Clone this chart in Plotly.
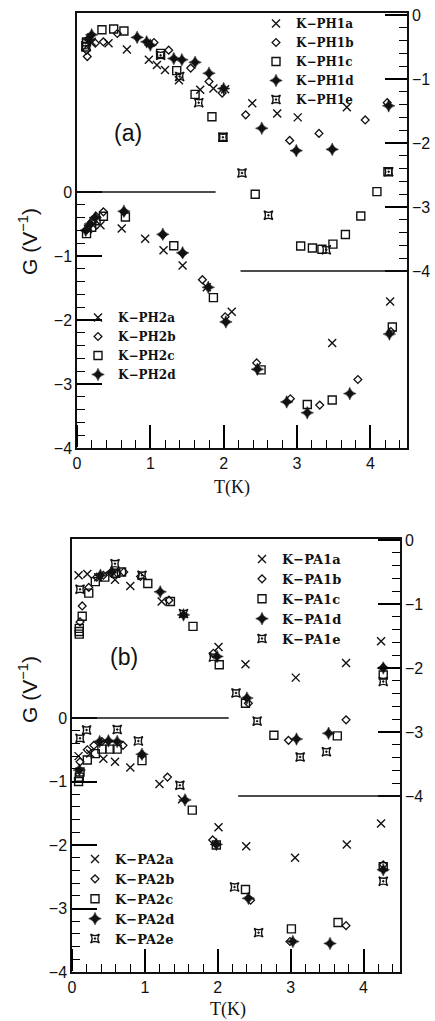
import plotly.graph_objects as go

# ---------------- data: panel (a) ----------------
# upper curves (right axis)
PH1a_T = [0.20, 0.43, 0.68, 0.98, 1.09, 1.20, 1.39, 1.68, 1.86, 2.02, 2.39, 2.73, 3.01, 3.68]
PH1a_G = [-0.42, -0.44, -0.54, -0.70, -0.78, -0.86, -1.02, -1.17, -1.15, -1.16, -1.38, -1.54, -1.60, -1.44]
PH1b_T = [0.13, 0.14, 0.25, 0.36, 0.55, 1.05, 1.25, 1.55, 1.80, 1.98, 2.30, 2.90, 3.30, 3.93, 4.23]
PH1b_G = [-0.55, -0.65, -0.44, -0.42, -0.29, -0.43, -0.55, -0.83, -1.04, -1.22, -1.56, -1.96, -1.85, -1.64, -1.37]
PH1c_T = [0.12, 0.13, 0.34, 0.50, 0.64, 1.14, 1.36, 1.61, 1.84, 1.99, 2.43, 3.05, 3.21, 3.34, 3.49, 3.66, 3.87, 4.09, 4.24]
PH1c_G = [-0.50, -0.42, -0.23, -0.22, -0.25, -0.60, -0.87, -1.24, -1.59, -1.91, -2.80, -3.61, -3.64, -3.66, -3.58, -3.43, -3.14, -2.76, -2.45]
PH1d_T = [0.15, 0.20, 0.82, 0.95, 1.00, 1.32, 1.43, 1.61, 1.80, 2.00, 2.52, 2.99, 3.48, 4.25]
PH1d_G = [-0.38, -0.31, -0.35, -0.42, -0.47, -0.68, -0.70, -0.74, -0.91, -1.15, -1.77, -2.12, -2.10, -1.42]
PH1e_T = [0.12, 1.14, 1.40, 1.66, 1.99, 2.25, 2.61, 3.40, 4.25]
PH1e_G = [-0.48, -0.63, -0.96, -1.37, -1.91, -2.47, -3.13, -3.67, -2.45]
# lower curves (left axis)
PH2a_T = [0.15, 0.22, 0.32, 0.61, 0.93, 1.18, 1.44, 1.77, 2.11, 3.48, 4.27]
PH2a_G = [-0.58, -0.52, -0.52, -0.57, -0.73, -0.91, -1.15, -1.49, -1.87, -2.36, -1.71]
PH2b_T = [0.14, 0.20, 0.26, 0.36, 0.64, 1.17, 1.44, 1.71, 2.02, 2.45, 2.91, 3.31, 3.83, 4.28]
PH2b_G = [-0.58, -0.47, -0.38, -0.31, -0.31, -0.67, -0.96, -1.37, -1.95, -2.67, -3.23, -3.33, -2.93, -2.18]
PH2c_T = [0.13, 0.20, 0.26, 0.36, 0.66, 1.32, 1.86, 2.51, 3.14, 3.48, 4.30]
PH2c_G = [-0.65, -0.55, -0.45, -0.38, -0.39, -0.84, -1.65, -2.78, -3.32, -3.25, -2.11]
PH2d_T = [0.12, 0.18, 0.25, 0.64, 1.17, 1.44, 1.79, 2.03, 2.46, 2.86, 3.14, 3.72, 4.26]
PH2d_G = [-0.60, -0.50, -0.40, -0.30, -0.66, -0.95, -1.49, -2.03, -2.77, -3.28, -3.45, -3.15, -2.22]

# ---------------- data: panel (b) ----------------
PA1a_T = [0.09, 0.21, 0.36, 0.59, 0.80, 1.23, 2.01, 2.38, 3.07, 3.76, 4.24]
PA1a_G = [-0.55, -0.53, -0.58, -0.62, -0.72, -0.96, -1.67, -1.94, -2.15, -1.92, -1.58]
PA1b_T = [0.11, 0.14, 0.23, 0.34, 0.43, 0.53, 0.62, 0.71, 0.94, 1.33, 1.94, 2.42, 2.97, 3.76, 4.27]
PA1b_G = [-1.28, -1.03, -0.74, -0.58, -0.55, -0.51, -0.52, -0.50, -0.57, -0.94, -1.77, -2.55, -3.13, -2.81, -1.99]
PA1c_T = [0.10, 0.10, 0.10, 0.14, 0.23, 0.32, 0.45, 0.60, 0.68, 1.04, 1.35, 1.66, 2.02, 2.38, 2.77, 3.64, 4.27]
PA1c_G = [-1.38, -1.43, -1.47, -1.19, -0.83, -0.65, -0.58, -0.52, -0.50, -0.68, -0.96, -1.35, -1.95, -2.55, -3.05, -3.06, -2.11]
PA1d_T = [0.39, 0.55, 1.21, 1.53, 1.99, 2.40, 3.08, 3.52, 4.27]
PA1d_G = [-0.55, -0.50, -0.81, -1.17, -1.82, -2.47, -3.11, -3.02, -2.00]
PA1e_T = [0.11, 0.59, 0.96, 1.53, 1.94, 2.25, 2.54, 3.13, 3.49, 4.27]
PA1e_G = [-0.77, -0.37, -0.55, -1.15, -1.83, -2.39, -2.83, -3.39, -3.31, -2.21]
# lower curves (left axis)
PA2a_T = [0.09, 0.25, 0.43, 0.59, 0.80, 1.20, 1.51, 2.01, 2.39, 3.06, 3.77, 4.24]
PA2a_G = [-0.60, -0.56, -0.64, -0.69, -0.78, -1.04, -1.28, -1.72, -2.02, -2.20, -1.99, -1.66]
PA2b_T = [0.11, 0.21, 0.30, 0.41, 0.70, 0.96, 1.31, 1.93, 2.45, 2.99, 3.76, 4.27]
PA2b_G = [-0.69, -0.50, -0.43, -0.37, -0.43, -0.58, -0.93, -1.92, -2.87, -3.52, -3.27, -2.31]
PA2c_T = [0.09, 0.10, 0.11, 0.21, 0.32, 0.41, 0.52, 0.62, 0.96, 1.65, 1.98, 2.38, 3.01, 3.65, 4.27]
PA2c_G = [-1.00, -0.93, -0.85, -0.66, -0.56, -0.49, -0.49, -0.49, -0.67, -1.45, -2.00, -2.70, -3.32, -3.22, -2.34]
PA2d_T = [0.10, 0.38, 0.50, 0.62, 0.96, 1.55, 1.98, 2.42, 3.03, 3.54, 4.27]
PA2d_G = [-0.82, -0.37, -0.36, -0.37, -0.57, -1.29, -1.99, -2.84, -3.52, -3.55, -2.39]
PA2e_T = [0.11, 0.20, 0.62, 0.91, 1.48, 2.23, 2.56, 4.27]
PA2e_G = [-0.32, -0.19, -0.18, -0.36, -1.06, -2.66, -3.38, -2.57]

# tick labels
x_ticks = [0, 1, 2, 3, 4]
y_ticks = [0, -1, -2, -3, -4]
y_ticktext = ["0", "\u22121", "\u22122", "\u22123", "\u22124"]
y_minor = [round(-(i * 0.2), 1) for i in range(1, 20) if i % 5 != 0]

# reference lines (left 0 line, right -4 line) per panel
sep_a = dict(zero_end=1.89, m4_start=2.23)
sep_b = dict(zero_end=2.15, m4_start=2.28)

INK = "#111111"
SYM = {
    "a": dict(symbol="x-thin-open", size=8, line=dict(width=1.4, color=INK)),
    "b": dict(symbol="diamond-open", size=6, line=dict(width=1.3, color=INK)),
    "c": dict(symbol="square-open", size=8, line=dict(width=1.4, color=INK)),
    "d": dict(symbol="star-diamond", size=9, color=INK, line=dict(width=0.5, color=INK)),
    "e": dict(symbol="star-square-open-dot", size=8, line=dict(width=1.4, color=INK)),
}

fig = go.Figure()

def add(T, G, key, name, xa, ya, leg):
    m = dict(SYM[key])
    m.setdefault("color", INK)
    fig.add_trace(go.Scatter(x=T, y=G, mode="markers", marker=m, name=name,
                             xaxis=xa, yaxis=ya, legend=leg, legendgroup=name,
                             showlegend=True))

add(PH1a_T, PH1a_G, "a", "K\u2212PH1a", "x", "y2", "legend")
add(PH1b_T, PH1b_G, "b", "K\u2212PH1b", "x", "y2", "legend")
add(PH1c_T, PH1c_G, "c", "K\u2212PH1c", "x", "y2", "legend")
add(PH1d_T, PH1d_G, "d", "K\u2212PH1d", "x", "y2", "legend")
add(PH1e_T, PH1e_G, "e", "K\u2212PH1e", "x", "y2", "legend")
add(PH2a_T, PH2a_G, "a", "K\u2212PH2a", "x", "y", "legend2")
add(PH2b_T, PH2b_G, "b", "K\u2212PH2b", "x", "y", "legend2")
add(PH2c_T, PH2c_G, "c", "K\u2212PH2c", "x", "y", "legend2")
add(PH2d_T, PH2d_G, "d", "K\u2212PH2d", "x", "y", "legend2")
add(PA1a_T, PA1a_G, "a", "K\u2212PA1a", "x2", "y4", "legend3")
add(PA1b_T, PA1b_G, "b", "K\u2212PA1b", "x2", "y4", "legend3")
add(PA1c_T, PA1c_G, "c", "K\u2212PA1c", "x2", "y4", "legend3")
add(PA1d_T, PA1d_G, "d", "K\u2212PA1d", "x2", "y4", "legend3")
add(PA1e_T, PA1e_G, "e", "K\u2212PA1e", "x2", "y4", "legend3")
add(PA2a_T, PA2a_G, "a", "K\u2212PA2a", "x2", "y3", "legend4")
add(PA2b_T, PA2b_G, "b", "K\u2212PA2b", "x2", "y3", "legend4")
add(PA2c_T, PA2c_G, "c", "K\u2212PA2c", "x2", "y3", "legend4")
add(PA2d_T, PA2d_G, "d", "K\u2212PA2d", "x2", "y3", "legend4")
add(PA2e_T, PA2e_G, "e", "K\u2212PA2e", "x2", "y3", "legend4")

# invisible carrier traces so the tick-only helper axes get a subplot of their own
for T, xa, ya in ((PH2a_T, "x3", "y5"), (PA2a_T, "x4", "y6")):
    fig.add_trace(go.Scatter(x=T, y=[0.5] * len(T), mode="markers",
                             marker=dict(opacity=0, size=1), hoverinfo="skip",
                             showlegend=False, xaxis=xa, yaxis=ya))

W, H = 435, 1021
def px(v): return v / W
def py(v): return 1 - v / H

tickfont = dict(family="Liberation Sans", size=16, color=INK)
MAJ_W, MIN_W = 1.6, 1.2

dom_xa = [px(77), px(407)]
dom_xb = [px(72), px(400)]
bot_a, top_a = py(448), py(13)
bot_b, top_b = py(972), py(539)

def xaxis(dom, anchor):
    # main x axis: box line + labels
    return dict(domain=dom, anchor=anchor, range=[0, 4.5], tickmode="array",
                tickvals=x_ticks, ticks="inside", ticklen=22, tickwidth=MAJ_W,
                tickcolor="black", showline=True, linecolor=INK, linewidth=1.5,
                mirror=True, showgrid=False, zeroline=False, tickfont=tickfont,
                minor=dict(tickmode="linear", tick0=0, dtick=0.2, ticks="inside",
                           ticklen=7, tickwidth=MIN_W, tickcolor="black", showgrid=False))

def xticker(dom, anchor):
    # helper axis on the panel's bottom edge whose ticks point up into the panel
    return dict(domain=dom, anchor=anchor, side="top", range=[0, 4.5], tickmode="array",
                tickvals=x_ticks, ticks="outside", ticklen=22, tickwidth=MAJ_W,
                tickcolor="black", showticklabels=False, showline=False,
                showgrid=False, zeroline=False,
                minor=dict(tickmode="linear", tick0=0, dtick=0.2, ticks="outside",
                           ticklen=7, tickwidth=MIN_W, tickcolor="black", showgrid=False))

def yhelper(bottom, anchor):
    return dict(domain=[bottom - 0.001, bottom], anchor=anchor, range=[0, 1],
                showticklabels=False, ticks="", showline=False, showgrid=False,
                zeroline=False)

def yleft(dom, anchor, rng):
    return dict(domain=dom, anchor=anchor, range=rng, tickmode="array",
                tickvals=y_ticks, ticktext=y_ticktext, ticks="inside", ticklen=25,
                tickwidth=MAJ_W, tickcolor="black", showline=True, linecolor=INK,
                linewidth=1.5, showgrid=False, zeroline=False, tickfont=tickfont,
                minor=dict(tickmode="array", tickvals=y_minor, ticks="inside",
                           ticklen=8, tickwidth=MIN_W, tickcolor="black", showgrid=False))

def yright(overlay, anchor, rng):
    return dict(overlaying=overlay, anchor=anchor, side="right", range=rng,
                tickmode="array", tickvals=y_ticks, ticktext=y_ticktext,
                ticks="inside", ticklen=22, tickwidth=MAJ_W, tickcolor="black",
                showline=True, linecolor=INK, linewidth=1.5, showgrid=False,
                zeroline=False, tickfont=tickfont,
                minor=dict(tickmode="array", tickvals=y_minor, ticks="inside",
                           ticklen=8, tickwidth=MIN_W, tickcolor="black", showgrid=False))

leg_font_a = dict(family="DejaVu Serif", size=12, color=INK, weight="bold")
leg_font_b = dict(family="DejaVu Serif", size=13, color=INK, weight="bold")
def legend(x, y, font):
    return dict(x=px(x), y=py(y), xanchor="left", yanchor="top",
                bgcolor="rgba(0,0,0,0)", borderwidth=0, font=font,
                tracegroupgap=0, itemwidth=30, traceorder="normal")

fig.update_layout(
    template="none",
    width=W, height=H, margin=dict(l=0, r=0, t=0, b=0),
    paper_bgcolor="white", plot_bgcolor="rgba(0,0,0,0)",
    xaxis=xaxis(dom_xa, "y"),
    yaxis=yleft([bot_a, top_a], "x", [-4, 2.797]),
    yaxis2=yright("y", "x", [-6.766, 0.031]),
    xaxis2=xaxis(dom_xb, "y3"),
    yaxis3=yleft([bot_b, top_b], "x2", [-4, 2.82]),
    yaxis4=yright("y3", "x2", [-6.75, 0.016]),
    xaxis3=xticker(dom_xa, "y5"),
    yaxis5=yhelper(bot_a, "x3"),
    xaxis4=xticker(dom_xb, "y6"),
    yaxis6=yhelper(bot_b, "x4"),
    legend=legend(256, 9, leg_font_a),
    legend2=legend(78, 303, leg_font_a),
    legend3=legend(242, 544, leg_font_b),
    legend4=legend(75, 844, leg_font_b),
    showlegend=True,
)

line_style = dict(color=INK, width=1.5)
fig.add_shape(type="line", xref="x", yref="y", x0=0, x1=sep_a["zero_end"], y0=0, y1=0, line=line_style)
fig.add_shape(type="line", xref="x", yref="y2", x0=sep_a["m4_start"], x1=4.5, y0=-4, y1=-4, line=line_style)
fig.add_shape(type="line", xref="x2", yref="y3", x0=0, x1=sep_b["zero_end"], y0=0, y1=0, line=line_style)
fig.add_shape(type="line", xref="x2", yref="y4", x0=sep_b["m4_start"], x1=4.5, y0=-4, y1=-4, line=line_style)

lab_font = dict(family="Liberation Sans", size=21, color=INK)
for yc in (242, 690):
    fig.add_annotation(text="G (V<sup>\u22121</sup>)", x=px(28), y=py(yc), xref="paper", yref="paper",
                       textangle=-90, showarrow=False, font=lab_font, xanchor="center", yanchor="middle")
for xc, yc in ((232, 487), (228, 1009)):
    fig.add_annotation(text="T(K)", x=px(xc), y=py(yc), xref="paper", yref="paper",
                       showarrow=False, font=dict(family="Liberation Serif", size=18, color=INK),
                       xanchor="center", yanchor="middle")
for txt, xc, yc in (("(a)", 128, 133), ("(b)", 124, 657)):
    fig.add_annotation(text=txt, x=px(xc), y=py(yc), xref="paper", yref="paper",
                       showarrow=False, font=dict(family="Liberation Sans", size=23, color=INK),
                       xanchor="center", yanchor="middle")

fig.write_html("out.html", config={"displayModeBar": False},
               post_script="document.body.style.margin='0';")
